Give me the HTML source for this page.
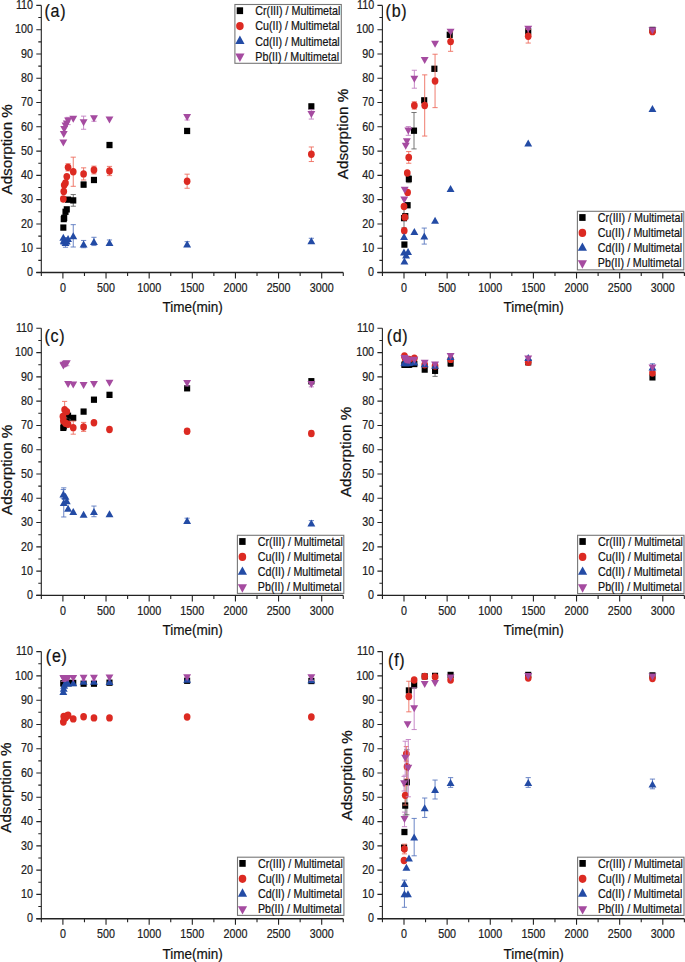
<!DOCTYPE html>
<html><head><meta charset="utf-8"><style>
html,body{margin:0;padding:0;background:#fff;}
svg{display:block;font-family:"Liberation Sans",sans-serif;}
text{stroke:#1a1a1a;stroke-width:0.22px;}
</style></head><body>
<svg width="685" height="962" viewBox="0 0 685 962">
<rect width="685" height="962" fill="#fff"/>
<path d="M73.25 194.56V206.22M70.65 194.56H75.85M70.65 206.22H75.85M83.60 182.18V187.03M81.00 182.18H86.20M81.00 187.03H86.20M93.96 177.57V182.42M91.36 177.57H96.56M91.36 182.42H96.56M311.36 104.00V108.85M308.76 104.00H313.96M308.76 108.85H313.96" stroke="#666666" stroke-width="0.9" fill="none"/><rect x="60.28" y="224.43" width="6.10" height="6.30" fill="#000000"/><rect x="60.71" y="215.93" width="6.10" height="6.30" fill="#000000"/><rect x="61.14" y="214.72" width="6.10" height="6.30" fill="#000000"/><rect x="62.44" y="208.65" width="6.10" height="6.30" fill="#000000"/><rect x="63.73" y="206.22" width="6.10" height="6.30" fill="#000000"/><rect x="65.03" y="196.51" width="6.10" height="6.30" fill="#000000"/><rect x="70.20" y="197.24" width="6.10" height="6.30" fill="#000000"/><rect x="80.55" y="181.46" width="6.10" height="6.30" fill="#000000"/><rect x="90.91" y="176.84" width="6.10" height="6.30" fill="#000000"/><rect x="106.44" y="141.88" width="6.10" height="6.30" fill="#000000"/><rect x="184.08" y="127.80" width="6.10" height="6.30" fill="#000000"/><rect x="308.31" y="103.27" width="6.10" height="6.30" fill="#000000"/>
<path d="M63.33 196.50V201.36M60.73 196.50H65.93M60.73 201.36H65.93M68.08 163.73V171.01M65.48 163.73H70.68M65.48 171.01H70.68M73.25 157.17V186.31M70.65 157.17H75.85M70.65 186.31H75.85M83.60 167.85V179.99M81.00 167.85H86.20M81.00 179.99H86.20M93.96 166.15V173.92M91.36 166.15H96.56M91.36 173.92H96.56M109.49 166.40V175.62M106.89 166.40H112.09M106.89 175.62H112.09M187.13 174.17V188.25M184.53 174.17H189.73M184.53 188.25H189.73M311.36 146.97V161.54M308.76 146.97H313.96M308.76 161.54H313.96" stroke="#ee6e60" stroke-width="0.9" fill="none"/><ellipse cx="63.33" cy="198.93" rx="3.35" ry="3.70" fill="#dc2a22"/><ellipse cx="63.76" cy="191.40" rx="3.35" ry="3.70" fill="#dc2a22"/><ellipse cx="64.19" cy="185.09" rx="3.35" ry="3.70" fill="#dc2a22"/><ellipse cx="65.49" cy="182.91" rx="3.35" ry="3.70" fill="#dc2a22"/><ellipse cx="66.78" cy="176.59" rx="3.35" ry="3.70" fill="#dc2a22"/><ellipse cx="68.08" cy="167.37" rx="3.35" ry="3.70" fill="#dc2a22"/><ellipse cx="73.25" cy="171.74" rx="3.35" ry="3.70" fill="#dc2a22"/><ellipse cx="83.60" cy="173.92" rx="3.35" ry="3.70" fill="#dc2a22"/><ellipse cx="93.96" cy="170.04" rx="3.35" ry="3.70" fill="#dc2a22"/><ellipse cx="109.49" cy="171.01" rx="3.35" ry="3.70" fill="#dc2a22"/><ellipse cx="187.13" cy="181.21" rx="3.35" ry="3.70" fill="#dc2a22"/><ellipse cx="311.36" cy="154.26" rx="3.35" ry="3.70" fill="#dc2a22"/>
<path d="M65.49 237.54V247.25M62.89 237.54H68.09M62.89 247.25H68.09M73.25 224.67V247.01M70.65 224.67H75.85M70.65 247.01H75.85M83.60 240.45V247.73M81.00 240.45H86.20M81.00 247.73H86.20M93.96 237.29V245.55M91.36 237.29H96.56M91.36 245.55H96.56M109.49 239.96V244.82M106.89 239.96H112.09M106.89 244.82H112.09M187.13 241.66V246.52M184.53 241.66H189.73M184.53 246.52H189.73M311.36 238.27V243.12M308.76 238.27H313.96M308.76 243.12H313.96" stroke="#5a78c0" stroke-width="0.9" fill="none"/><path d="M63.33 233.79L67.28 240.79H59.38Z" fill="#234ba5"/><path d="M63.76 236.71L67.71 243.71H59.81Z" fill="#234ba5"/><path d="M64.19 237.44L68.14 244.44H60.24Z" fill="#234ba5"/><path d="M65.49 238.89L69.44 245.89H61.54Z" fill="#234ba5"/><path d="M66.78 237.44L70.73 244.44H62.83Z" fill="#234ba5"/><path d="M68.08 235.01L72.03 242.01H64.13Z" fill="#234ba5"/><path d="M73.25 232.34L77.20 239.34H69.30Z" fill="#234ba5"/><path d="M83.60 240.59L87.55 247.59H79.65Z" fill="#234ba5"/><path d="M93.96 237.92L97.91 244.92H90.01Z" fill="#234ba5"/><path d="M109.49 238.89L113.44 245.89H105.54Z" fill="#234ba5"/><path d="M187.13 240.59L191.08 247.59H183.18Z" fill="#234ba5"/><path d="M311.36 237.19L315.31 244.19H307.41Z" fill="#234ba5"/>
<path d="M68.08 117.35V124.63M65.48 117.35H70.68M65.48 124.63H70.68M83.60 116.14V129.25M81.00 116.14H86.20M81.00 129.25H86.20M93.96 116.38V121.24M91.36 116.38H96.56M91.36 121.24H96.56M187.13 115.17V120.02M184.53 115.17H189.73M184.53 120.02H189.73M311.36 109.82V119.05M308.76 109.82H313.96M308.76 119.05H313.96" stroke="#c27ec2" stroke-width="0.9" fill="none"/><path d="M63.33 146.59L67.28 139.59H59.38Z" fill="#a54ba0"/><path d="M63.76 138.09L67.71 131.09H59.81Z" fill="#a54ba0"/><path d="M64.19 132.99L68.14 125.99H60.24Z" fill="#a54ba0"/><path d="M65.49 129.59L69.44 122.59H61.54Z" fill="#a54ba0"/><path d="M66.78 127.41L70.73 120.41H62.83Z" fill="#a54ba0"/><path d="M68.08 124.49L72.03 117.49H64.13Z" fill="#a54ba0"/><path d="M73.25 122.79L77.20 115.79H69.30Z" fill="#a54ba0"/><path d="M83.60 126.19L87.55 119.19H79.65Z" fill="#a54ba0"/><path d="M93.96 122.31L97.91 115.31H90.01Z" fill="#a54ba0"/><path d="M109.49 123.52L113.44 116.52H105.54Z" fill="#a54ba0"/><path d="M187.13 121.09L191.08 114.09H183.18Z" fill="#a54ba0"/><path d="M311.36 117.94L315.31 110.94H307.41Z" fill="#a54ba0"/>
<path d="M404.00 208.40V227.82M401.40 208.40H406.60M401.40 227.82H406.60M408.83 175.38V182.66M406.23 175.38H411.43M406.23 182.66H411.43M414.01 112.49V148.91M411.41 112.49H416.61M411.41 148.91H416.61" stroke="#666666" stroke-width="0.9" fill="none"/><rect x="401.35" y="241.43" width="6.10" height="6.30" fill="#000000"/><rect x="400.95" y="214.96" width="6.10" height="6.30" fill="#000000"/><rect x="402.24" y="213.02" width="6.10" height="6.30" fill="#000000"/><rect x="404.57" y="202.09" width="6.10" height="6.30" fill="#000000"/><rect x="405.78" y="175.87" width="6.10" height="6.30" fill="#000000"/><rect x="410.96" y="127.55" width="6.10" height="6.30" fill="#000000"/><rect x="421.14" y="97.20" width="6.10" height="6.30" fill="#000000"/><rect x="431.32" y="65.64" width="6.10" height="6.30" fill="#000000"/><rect x="446.67" y="31.65" width="6.10" height="6.30" fill="#000000"/><rect x="525.18" y="28.25" width="6.10" height="6.30" fill="#000000"/><rect x="649.41" y="26.79" width="6.10" height="6.30" fill="#000000"/>
<path d="M408.74 151.59V163.24M406.14 151.59H411.34M406.14 163.24H411.34M414.35 101.81V109.10M411.75 101.81H416.95M411.75 109.10H416.95M424.70 74.86V136.05M422.10 74.86H427.30M422.10 136.05H427.30M435.06 54.22V107.64M432.46 54.22H437.66M432.46 107.64H437.66M450.59 31.89V51.31M447.99 31.89H453.19M447.99 51.31H453.19M528.23 29.46V43.05M525.63 29.46H530.83M525.63 43.05H530.83" stroke="#ee6e60" stroke-width="0.9" fill="none"/><ellipse cx="404.26" cy="230.74" rx="3.35" ry="3.70" fill="#dc2a22"/><ellipse cx="404.86" cy="217.14" rx="3.35" ry="3.70" fill="#dc2a22"/><ellipse cx="404.00" cy="206.46" rx="3.35" ry="3.70" fill="#dc2a22"/><ellipse cx="407.62" cy="192.38" rx="3.35" ry="3.70" fill="#dc2a22"/><ellipse cx="407.28" cy="172.95" rx="3.35" ry="3.70" fill="#dc2a22"/><ellipse cx="408.74" cy="157.41" rx="3.35" ry="3.70" fill="#dc2a22"/><ellipse cx="414.35" cy="105.45" rx="3.35" ry="3.70" fill="#dc2a22"/><ellipse cx="424.70" cy="105.45" rx="3.35" ry="3.70" fill="#dc2a22"/><ellipse cx="435.06" cy="80.93" rx="3.35" ry="3.70" fill="#dc2a22"/><ellipse cx="450.59" cy="41.60" rx="3.35" ry="3.70" fill="#dc2a22"/><ellipse cx="528.23" cy="36.26" rx="3.35" ry="3.70" fill="#dc2a22"/><ellipse cx="652.46" cy="31.64" rx="3.35" ry="3.70" fill="#dc2a22"/>
<path d="M424.27 228.07V244.09M421.67 228.07H426.87M421.67 244.09H426.87" stroke="#5a78c0" stroke-width="0.9" fill="none"/><path d="M404.43 257.59L408.38 264.59H400.48Z" fill="#234ba5"/><path d="M406.07 251.52L410.02 258.52H402.12Z" fill="#234ba5"/><path d="M404.00 248.60L407.95 255.60H400.05Z" fill="#234ba5"/><path d="M408.05 247.88L412.00 254.88H404.10Z" fill="#234ba5"/><path d="M404.09 233.07L408.04 240.07H400.14Z" fill="#234ba5"/><path d="M414.35 227.97L418.30 234.97H410.40Z" fill="#234ba5"/><path d="M424.27 232.58L428.22 239.58H420.32Z" fill="#234ba5"/><path d="M435.06 216.80L439.01 223.80H431.11Z" fill="#234ba5"/><path d="M450.59 184.99L454.54 191.99H446.64Z" fill="#234ba5"/><path d="M528.23 139.59L532.18 146.59H524.28Z" fill="#234ba5"/><path d="M652.46 105.11L656.41 112.11H648.51Z" fill="#234ba5"/>
<path d="M408.31 126.58V135.32M405.71 126.58H410.91M405.71 135.32H410.91M414.35 70.25V88.21M411.75 70.25H416.95M411.75 88.21H416.95" stroke="#c27ec2" stroke-width="0.9" fill="none"/><path d="M404.26 203.40L408.21 196.40H400.31Z" fill="#a54ba0"/><path d="M404.69 193.69L408.64 186.69H400.74Z" fill="#a54ba0"/><path d="M405.73 149.74L409.68 142.74H401.78Z" fill="#a54ba0"/><path d="M406.85 145.13L410.80 138.13H402.90Z" fill="#a54ba0"/><path d="M408.31 134.45L412.26 127.45H404.36Z" fill="#a54ba0"/><path d="M414.35 82.73L418.30 75.73H410.40Z" fill="#a54ba0"/><path d="M424.70 64.04L428.65 57.04H420.75Z" fill="#a54ba0"/><path d="M435.06 47.77L439.01 40.77H431.11Z" fill="#a54ba0"/><path d="M450.59 35.63L454.54 28.63H446.64Z" fill="#a54ba0"/><path d="M528.23 32.71L532.18 25.71H524.28Z" fill="#a54ba0"/><path d="M652.46 34.17L656.41 27.17H648.51Z" fill="#a54ba0"/>
<path d="M311.36 378.82V383.68M308.76 378.82H313.96M308.76 383.68H313.96" stroke="#666666" stroke-width="0.9" fill="none"/><rect x="60.28" y="424.72" width="6.10" height="6.30" fill="#000000"/><rect x="60.71" y="423.26" width="6.10" height="6.30" fill="#000000"/><rect x="61.14" y="421.80" width="6.10" height="6.30" fill="#000000"/><rect x="62.44" y="421.08" width="6.10" height="6.30" fill="#000000"/><rect x="63.73" y="418.65" width="6.10" height="6.30" fill="#000000"/><rect x="65.03" y="412.58" width="6.10" height="6.30" fill="#000000"/><rect x="70.20" y="414.76" width="6.10" height="6.30" fill="#000000"/><rect x="80.55" y="408.45" width="6.10" height="6.30" fill="#000000"/><rect x="90.91" y="396.55" width="6.10" height="6.30" fill="#000000"/><rect x="106.44" y="391.70" width="6.10" height="6.30" fill="#000000"/><rect x="184.08" y="385.14" width="6.10" height="6.30" fill="#000000"/><rect x="308.31" y="378.10" width="6.10" height="6.30" fill="#000000"/>
<path d="M64.63 401.40V417.91M62.03 401.40H67.23M62.03 417.91H67.23M73.25 421.07V434.18M70.65 421.07H75.85M70.65 434.18H75.85M83.60 422.40V431.39M81.00 422.40H86.20M81.00 431.39H86.20M187.13 428.84V433.70M184.53 428.84H189.73M184.53 433.70H189.73M311.36 431.02V435.88M308.76 431.02H313.96M308.76 435.88H313.96" stroke="#ee6e60" stroke-width="0.9" fill="none"/><ellipse cx="62.90" cy="416.46" rx="3.35" ry="3.70" fill="#dc2a22"/><ellipse cx="63.33" cy="421.07" rx="3.35" ry="3.70" fill="#dc2a22"/><ellipse cx="64.63" cy="409.66" rx="3.35" ry="3.70" fill="#dc2a22"/><ellipse cx="65.49" cy="423.25" rx="3.35" ry="3.70" fill="#dc2a22"/><ellipse cx="66.78" cy="411.60" rx="3.35" ry="3.70" fill="#dc2a22"/><ellipse cx="68.08" cy="424.23" rx="3.35" ry="3.70" fill="#dc2a22"/><ellipse cx="73.25" cy="427.63" rx="3.35" ry="3.70" fill="#dc2a22"/><ellipse cx="83.60" cy="426.90" rx="3.35" ry="3.70" fill="#dc2a22"/><ellipse cx="93.96" cy="422.77" rx="3.35" ry="3.70" fill="#dc2a22"/><ellipse cx="109.49" cy="429.57" rx="3.35" ry="3.70" fill="#dc2a22"/><ellipse cx="187.13" cy="431.27" rx="3.35" ry="3.70" fill="#dc2a22"/><ellipse cx="311.36" cy="433.45" rx="3.35" ry="3.70" fill="#dc2a22"/>
<path d="M63.33 489.54V498.28M60.73 489.54H65.93M60.73 498.28H65.93M63.76 487.84V516.98M61.16 487.84H66.36M61.16 516.98H66.36M93.96 506.05V516.73M91.36 506.05H96.56M91.36 516.73H96.56M187.13 518.19V523.05M184.53 518.19H189.73M184.53 523.05H189.73M311.36 520.62V525.47M308.76 520.62H313.96M308.76 525.47H313.96" stroke="#5a78c0" stroke-width="0.9" fill="none"/><path d="M63.33 490.41L67.28 497.41H59.38Z" fill="#234ba5"/><path d="M63.76 498.91L67.71 505.91H59.81Z" fill="#234ba5"/><path d="M65.49 492.84L69.44 499.84H61.54Z" fill="#234ba5"/><path d="M66.78 497.21L70.73 504.21H62.83Z" fill="#234ba5"/><path d="M68.08 504.73L72.03 511.73H64.13Z" fill="#234ba5"/><path d="M73.25 507.89L77.20 514.89H69.30Z" fill="#234ba5"/><path d="M83.60 510.80L87.55 517.80H79.65Z" fill="#234ba5"/><path d="M93.96 507.89L97.91 514.89H90.01Z" fill="#234ba5"/><path d="M109.49 510.32L113.44 517.32H105.54Z" fill="#234ba5"/><path d="M187.13 517.12L191.08 524.12H183.18Z" fill="#234ba5"/><path d="M311.36 519.55L315.31 526.55H307.41Z" fill="#234ba5"/>
<path d="M66.78 361.83V365.71M64.18 361.83H69.38M64.18 365.71H69.38M187.13 381.01V385.86M184.53 381.01H189.73M184.53 385.86H189.73M311.36 381.98V386.83M308.76 381.98H313.96M308.76 386.83H313.96" stroke="#c27ec2" stroke-width="0.9" fill="none"/><path d="M63.33 369.45L67.28 362.45H59.38Z" fill="#a54ba0"/><path d="M63.76 368.73L67.71 361.73H59.81Z" fill="#a54ba0"/><path d="M65.49 367.75L69.44 360.75H61.54Z" fill="#a54ba0"/><path d="M66.78 367.27L70.73 360.27H62.83Z" fill="#a54ba0"/><path d="M68.08 387.91L72.03 380.91H64.13Z" fill="#a54ba0"/><path d="M73.25 388.39L77.20 381.39H69.30Z" fill="#a54ba0"/><path d="M83.60 389.12L87.55 382.12H79.65Z" fill="#a54ba0"/><path d="M93.96 387.91L97.91 380.91H90.01Z" fill="#a54ba0"/><path d="M109.49 386.69L113.44 379.69H105.54Z" fill="#a54ba0"/><path d="M187.13 386.94L191.08 379.94H183.18Z" fill="#a54ba0"/><path d="M311.36 387.91L315.31 380.91H307.41Z" fill="#a54ba0"/>
<path d="M435.06 365.23V376.39M432.46 365.23H437.66M432.46 376.39H437.66M450.59 360.13V366.44M447.99 360.13H453.19M447.99 366.44H453.19" stroke="#666666" stroke-width="0.9" fill="none"/><rect x="401.38" y="361.59" width="6.10" height="6.30" fill="#000000"/><rect x="401.81" y="361.59" width="6.10" height="6.30" fill="#000000"/><rect x="402.24" y="361.35" width="6.10" height="6.30" fill="#000000"/><rect x="403.54" y="361.35" width="6.10" height="6.30" fill="#000000"/><rect x="404.83" y="361.59" width="6.10" height="6.30" fill="#000000"/><rect x="406.13" y="361.59" width="6.10" height="6.30" fill="#000000"/><rect x="411.30" y="360.86" width="6.10" height="6.30" fill="#000000"/><rect x="421.65" y="366.45" width="6.10" height="6.30" fill="#000000"/><rect x="432.01" y="367.66" width="6.10" height="6.30" fill="#000000"/><rect x="447.54" y="360.13" width="6.10" height="6.30" fill="#000000"/><rect x="525.18" y="359.16" width="6.10" height="6.30" fill="#000000"/><rect x="649.41" y="374.22" width="6.10" height="6.30" fill="#000000"/>
<ellipse cx="404.43" cy="356.00" rx="3.35" ry="3.70" fill="#dc2a22"/><ellipse cx="404.86" cy="357.46" rx="3.35" ry="3.70" fill="#dc2a22"/><ellipse cx="405.29" cy="358.67" rx="3.35" ry="3.70" fill="#dc2a22"/><ellipse cx="406.59" cy="359.40" rx="3.35" ry="3.70" fill="#dc2a22"/><ellipse cx="407.88" cy="359.88" rx="3.35" ry="3.70" fill="#dc2a22"/><ellipse cx="409.18" cy="359.40" rx="3.35" ry="3.70" fill="#dc2a22"/><ellipse cx="414.35" cy="358.18" rx="3.35" ry="3.70" fill="#dc2a22"/><ellipse cx="424.70" cy="364.74" rx="3.35" ry="3.70" fill="#dc2a22"/><ellipse cx="435.06" cy="365.95" rx="3.35" ry="3.70" fill="#dc2a22"/><ellipse cx="450.59" cy="359.40" rx="3.35" ry="3.70" fill="#dc2a22"/><ellipse cx="528.23" cy="362.31" rx="3.35" ry="3.70" fill="#dc2a22"/><ellipse cx="652.46" cy="373.00" rx="3.35" ry="3.70" fill="#dc2a22"/>
<path d="M652.46 363.77V370.08M649.86 363.77H655.06M649.86 370.08H655.06" stroke="#5a78c0" stroke-width="0.9" fill="none"/><path d="M404.43 358.81L408.38 365.81H400.48Z" fill="#234ba5"/><path d="M404.86 359.05L408.81 366.05H400.91Z" fill="#234ba5"/><path d="M405.29 359.30L409.24 366.30H401.34Z" fill="#234ba5"/><path d="M406.59 359.30L410.54 366.30H402.64Z" fill="#234ba5"/><path d="M407.88 359.05L411.83 366.05H403.93Z" fill="#234ba5"/><path d="M409.18 358.81L413.13 365.81H405.23Z" fill="#234ba5"/><path d="M414.35 358.57L418.30 365.57H410.40Z" fill="#234ba5"/><path d="M424.70 360.27L428.65 367.27H420.75Z" fill="#234ba5"/><path d="M435.06 361.73L439.01 368.73H431.11Z" fill="#234ba5"/><path d="M450.59 352.98L454.54 359.98H446.64Z" fill="#234ba5"/><path d="M528.23 353.96L532.18 360.96H524.28Z" fill="#234ba5"/><path d="M652.46 363.43L656.41 370.43H648.51Z" fill="#234ba5"/>
<path d="M404.43 361.93L408.38 354.93H400.48Z" fill="#a54ba0"/><path d="M404.86 362.66L408.81 355.66H400.91Z" fill="#a54ba0"/><path d="M405.29 363.38L409.24 356.38H401.34Z" fill="#a54ba0"/><path d="M406.59 363.87L410.54 356.87H402.64Z" fill="#a54ba0"/><path d="M407.88 364.36L411.83 357.36H403.93Z" fill="#a54ba0"/><path d="M409.18 364.60L413.13 357.60H405.23Z" fill="#a54ba0"/><path d="M414.35 363.87L418.30 356.87H410.40Z" fill="#a54ba0"/><path d="M424.70 366.78L428.65 359.78H420.75Z" fill="#a54ba0"/><path d="M435.06 368.48L439.01 361.48H431.11Z" fill="#a54ba0"/><path d="M450.59 359.98L454.54 352.98H446.64Z" fill="#a54ba0"/><path d="M528.23 362.41L532.18 355.41H524.28Z" fill="#a54ba0"/><path d="M652.46 371.40L656.41 364.40H648.51Z" fill="#a54ba0"/>
<rect x="60.28" y="680.28" width="6.10" height="6.30" fill="#000000"/><rect x="60.71" y="680.03" width="6.10" height="6.30" fill="#000000"/><rect x="61.14" y="680.03" width="6.10" height="6.30" fill="#000000"/><rect x="62.44" y="679.79" width="6.10" height="6.30" fill="#000000"/><rect x="63.73" y="679.79" width="6.10" height="6.30" fill="#000000"/><rect x="65.03" y="679.79" width="6.10" height="6.30" fill="#000000"/><rect x="70.20" y="679.79" width="6.10" height="6.30" fill="#000000"/><rect x="80.55" y="680.52" width="6.10" height="6.30" fill="#000000"/><rect x="90.91" y="680.52" width="6.10" height="6.30" fill="#000000"/><rect x="106.44" y="679.55" width="6.10" height="6.30" fill="#000000"/><rect x="184.08" y="677.61" width="6.10" height="6.30" fill="#000000"/><rect x="308.31" y="677.85" width="6.10" height="6.30" fill="#000000"/>
<ellipse cx="63.33" cy="722.03" rx="3.35" ry="3.70" fill="#dc2a22"/><ellipse cx="63.76" cy="716.45" rx="3.35" ry="3.70" fill="#dc2a22"/><ellipse cx="64.19" cy="718.39" rx="3.35" ry="3.70" fill="#dc2a22"/><ellipse cx="65.49" cy="717.66" rx="3.35" ry="3.70" fill="#dc2a22"/><ellipse cx="66.78" cy="715.96" rx="3.35" ry="3.70" fill="#dc2a22"/><ellipse cx="68.08" cy="715.23" rx="3.35" ry="3.70" fill="#dc2a22"/><ellipse cx="73.25" cy="718.88" rx="3.35" ry="3.70" fill="#dc2a22"/><ellipse cx="83.60" cy="716.69" rx="3.35" ry="3.70" fill="#dc2a22"/><ellipse cx="93.96" cy="717.90" rx="3.35" ry="3.70" fill="#dc2a22"/><ellipse cx="109.49" cy="717.90" rx="3.35" ry="3.70" fill="#dc2a22"/><ellipse cx="187.13" cy="716.93" rx="3.35" ry="3.70" fill="#dc2a22"/><ellipse cx="311.36" cy="716.93" rx="3.35" ry="3.70" fill="#dc2a22"/>
<path d="M63.33 689.01V693.87M60.73 689.01H65.93M60.73 693.87H65.93" stroke="#5a78c0" stroke-width="0.9" fill="none"/><path d="M63.33 687.94L67.28 694.94H59.38Z" fill="#234ba5"/><path d="M63.76 684.78L67.71 691.78H59.81Z" fill="#234ba5"/><path d="M64.19 681.87L68.14 688.87H60.24Z" fill="#234ba5"/><path d="M65.49 678.96L69.44 685.96H61.54Z" fill="#234ba5"/><path d="M66.78 678.96L70.73 685.96H62.83Z" fill="#234ba5"/><path d="M68.08 679.68L72.03 686.68H64.13Z" fill="#234ba5"/><path d="M73.25 679.20L77.20 686.20H69.30Z" fill="#234ba5"/><path d="M83.60 677.74L87.55 684.74H79.65Z" fill="#234ba5"/><path d="M93.96 677.74L97.91 684.74H90.01Z" fill="#234ba5"/><path d="M109.49 677.98L113.44 684.98H105.54Z" fill="#234ba5"/><path d="M187.13 675.80L191.08 682.80H183.18Z" fill="#234ba5"/><path d="M311.36 676.28L315.31 683.28H307.41Z" fill="#234ba5"/>
<path d="M63.33 676.39V681.24M60.73 676.39H65.93M60.73 681.24H65.93M83.60 676.39V680.27M81.00 676.39H86.20M81.00 680.27H86.20M93.96 676.39V680.27M91.36 676.39H96.56M91.36 680.27H96.56M311.36 675.41V680.27M308.76 675.41H313.96M308.76 680.27H313.96" stroke="#c27ec2" stroke-width="0.9" fill="none"/><path d="M63.33 682.31L67.28 675.31H59.38Z" fill="#a54ba0"/><path d="M63.76 682.31L67.71 675.31H59.81Z" fill="#a54ba0"/><path d="M64.19 682.07L68.14 675.07H60.24Z" fill="#a54ba0"/><path d="M65.49 682.07L69.44 675.07H61.54Z" fill="#a54ba0"/><path d="M66.78 682.07L70.73 675.07H62.83Z" fill="#a54ba0"/><path d="M68.08 682.07L72.03 675.07H64.13Z" fill="#a54ba0"/><path d="M73.25 682.07L77.20 675.07H69.30Z" fill="#a54ba0"/><path d="M83.60 681.83L87.55 674.83H79.65Z" fill="#a54ba0"/><path d="M93.96 681.83L97.91 674.83H90.01Z" fill="#a54ba0"/><path d="M109.49 681.59L113.44 674.59H105.54Z" fill="#a54ba0"/><path d="M187.13 681.34L191.08 674.34H183.18Z" fill="#a54ba0"/><path d="M311.36 681.34L315.31 674.34H307.41Z" fill="#a54ba0"/>
<path d="M405.21 796.09V815.02M402.61 796.09H407.81M402.61 815.02H407.81M406.85 749.71V814.78M404.25 749.71H409.45M404.25 814.78H409.45M414.18 681.24V688.53M411.58 681.24H416.78M411.58 688.53H416.78" stroke="#666666" stroke-width="0.9" fill="none"/><rect x="401.04" y="844.41" width="6.10" height="6.30" fill="#000000"/><rect x="401.38" y="828.87" width="6.10" height="6.30" fill="#000000"/><rect x="402.16" y="802.41" width="6.10" height="6.30" fill="#000000"/><rect x="403.80" y="779.10" width="6.10" height="6.30" fill="#000000"/><rect x="405.78" y="687.32" width="6.10" height="6.30" fill="#000000"/><rect x="411.13" y="681.73" width="6.10" height="6.30" fill="#000000"/><rect x="421.65" y="673.24" width="6.10" height="6.30" fill="#000000"/><rect x="432.01" y="672.75" width="6.10" height="6.30" fill="#000000"/><rect x="447.54" y="671.78" width="6.10" height="6.30" fill="#000000"/><rect x="525.18" y="671.78" width="6.10" height="6.30" fill="#000000"/><rect x="649.41" y="672.26" width="6.10" height="6.30" fill="#000000"/>
<path d="M404.43 844.16V853.87M401.83 844.16H407.03M401.83 853.87H407.03M405.21 785.65V805.07M402.61 785.65H407.81M402.61 805.07H407.81M407.02 754.57V778.85M404.42 754.57H409.62M404.42 778.85H409.62M406.33 746.55V761.12M403.73 746.55H408.93M403.73 761.12H408.93M408.83 681.24V711.83M406.23 681.24H411.43M406.23 711.83H411.43" stroke="#ee6e60" stroke-width="0.9" fill="none"/><ellipse cx="404.00" cy="860.43" rx="3.35" ry="3.70" fill="#dc2a22"/><ellipse cx="404.43" cy="849.02" rx="3.35" ry="3.70" fill="#dc2a22"/><ellipse cx="405.21" cy="795.36" rx="3.35" ry="3.70" fill="#dc2a22"/><ellipse cx="407.02" cy="766.71" rx="3.35" ry="3.70" fill="#dc2a22"/><ellipse cx="406.33" cy="753.84" rx="3.35" ry="3.70" fill="#dc2a22"/><ellipse cx="408.83" cy="696.54" rx="3.35" ry="3.70" fill="#dc2a22"/><ellipse cx="414.18" cy="680.03" rx="3.35" ry="3.70" fill="#dc2a22"/><ellipse cx="424.70" cy="676.39" rx="3.35" ry="3.70" fill="#dc2a22"/><ellipse cx="435.06" cy="676.87" rx="3.35" ry="3.70" fill="#dc2a22"/><ellipse cx="450.59" cy="680.03" rx="3.35" ry="3.70" fill="#dc2a22"/><ellipse cx="528.23" cy="678.09" rx="3.35" ry="3.70" fill="#dc2a22"/><ellipse cx="652.46" cy="678.57" rx="3.35" ry="3.70" fill="#dc2a22"/>
<path d="M404.43 880.09V907.29M401.83 880.09H407.03M401.83 907.29H407.03M414.18 818.42V855.81M411.58 818.42H416.78M411.58 855.81H416.78M424.70 798.03V817.45M422.10 798.03H427.30M422.10 817.45H427.30M435.06 780.06V799.00M432.46 780.06H437.66M432.46 799.00H437.66M450.59 777.63V787.35M447.99 777.63H453.19M447.99 787.35H453.19M528.23 777.63V787.35M525.63 777.63H530.83M525.63 787.35H530.83M652.46 779.09V788.80M649.86 779.09H655.06M649.86 788.80H655.06" stroke="#5a78c0" stroke-width="0.9" fill="none"/><path d="M404.43 890.19L408.38 897.19H400.48Z" fill="#234ba5"/><path d="M407.97 890.19L411.92 897.19H404.02Z" fill="#234ba5"/><path d="M404.43 879.99L408.38 886.99H400.48Z" fill="#234ba5"/><path d="M406.42 863.73L410.37 870.73H402.47Z" fill="#234ba5"/><path d="M409.00 854.50L412.95 861.50H405.05Z" fill="#234ba5"/><path d="M414.18 833.62L418.13 840.62H410.23Z" fill="#234ba5"/><path d="M424.70 804.24L428.65 811.24H420.75Z" fill="#234ba5"/><path d="M435.06 786.03L439.01 793.03H431.11Z" fill="#234ba5"/><path d="M450.59 778.99L454.54 785.99H446.64Z" fill="#234ba5"/><path d="M528.23 778.99L532.18 785.99H524.28Z" fill="#234ba5"/><path d="M652.46 780.45L656.41 787.45H648.51Z" fill="#234ba5"/>
<path d="M404.52 812.11V826.68M401.92 812.11H407.12M401.92 826.68H407.12M404.09 776.42V790.99M401.49 776.42H406.69M401.49 790.99H406.69M405.21 741.21V775.21M402.61 741.21H407.81M402.61 775.21H407.81M408.31 739.51V796.81M405.71 739.51H410.91M405.71 796.81H410.91M414.18 687.80V729.56M411.58 687.80H416.78M411.58 729.56H416.78" stroke="#c27ec2" stroke-width="0.9" fill="none"/><path d="M404.52 822.89L408.47 815.89H400.57Z" fill="#a54ba0"/><path d="M404.09 787.20L408.04 780.20H400.14Z" fill="#a54ba0"/><path d="M405.21 761.71L409.16 754.71H401.26Z" fill="#a54ba0"/><path d="M408.31 771.66L412.26 764.66H404.36Z" fill="#a54ba0"/><path d="M407.62 728.20L411.57 721.20H403.67Z" fill="#a54ba0"/><path d="M414.18 712.18L418.13 705.18H410.23Z" fill="#a54ba0"/><path d="M424.70 687.90L428.65 680.90H420.75Z" fill="#a54ba0"/><path d="M435.06 686.93L439.01 679.93H431.11Z" fill="#a54ba0"/><path d="M450.59 681.59L454.54 674.59H446.64Z" fill="#a54ba0"/><path d="M528.23 679.89L532.18 672.89H524.28Z" fill="#a54ba0"/><path d="M652.46 680.61L656.41 673.61H648.51Z" fill="#a54ba0"/>
<g stroke="#222" stroke-width="1.1" fill="none"><path d="M41.30 5.42V272.50" /><path d="M36.30 272.50H343.28" stroke-width="1.4"/><path d="M36.30 272.50H41.30M38.30 260.36H41.30M36.30 248.22H41.30M38.30 236.08H41.30M36.30 223.94H41.30M38.30 211.80H41.30M36.30 199.66H41.30M38.30 187.52H41.30M36.30 175.38H41.30M38.30 163.24H41.30M36.30 151.10H41.30M38.30 138.96H41.30M36.30 126.82H41.30M38.30 114.68H41.30M36.30 102.54H41.30M38.30 90.40H41.30M36.30 78.26H41.30M38.30 66.12H41.30M36.30 53.98H41.30M38.30 41.84H41.30M36.30 29.70H41.30M38.30 17.56H41.30M36.30 5.42H41.30M41.33 272.50V276.00M62.90 272.50V278.50M84.47 272.50V276.00M106.03 272.50V278.50M127.60 272.50V276.00M149.17 272.50V278.50M170.74 272.50V276.00M192.31 272.50V278.50M213.87 272.50V276.00M235.44 272.50V278.50M257.01 272.50V276.00M278.57 272.50V278.50M300.14 272.50V276.00M321.71 272.50V278.50M343.28 272.50V276.00" /></g>
<g font-size="12.5" fill="#222"><text transform="translate(33.00 276.20) scale(0.86 1)" text-anchor="end">0</text><text transform="translate(33.00 251.92) scale(0.86 1)" text-anchor="end">10</text><text transform="translate(33.00 227.64) scale(0.86 1)" text-anchor="end">20</text><text transform="translate(33.00 203.36) scale(0.86 1)" text-anchor="end">30</text><text transform="translate(33.00 179.08) scale(0.86 1)" text-anchor="end">40</text><text transform="translate(33.00 154.80) scale(0.86 1)" text-anchor="end">50</text><text transform="translate(33.00 130.52) scale(0.86 1)" text-anchor="end">60</text><text transform="translate(33.00 106.24) scale(0.86 1)" text-anchor="end">70</text><text transform="translate(33.00 81.96) scale(0.86 1)" text-anchor="end">80</text><text transform="translate(33.00 57.68) scale(0.86 1)" text-anchor="end">90</text><text transform="translate(33.00 33.40) scale(0.86 1)" text-anchor="end">100</text><text transform="translate(33.00 9.12) scale(0.86 1)" text-anchor="end">110</text><text transform="translate(62.90 291.90) scale(0.86 1)" text-anchor="middle">0</text><text transform="translate(106.03 291.90) scale(0.86 1)" text-anchor="middle">500</text><text transform="translate(149.17 291.90) scale(0.86 1)" text-anchor="middle">1000</text><text transform="translate(192.31 291.90) scale(0.86 1)" text-anchor="middle">1500</text><text transform="translate(235.44 291.90) scale(0.86 1)" text-anchor="middle">2000</text><text transform="translate(278.57 291.90) scale(0.86 1)" text-anchor="middle">2500</text><text transform="translate(321.71 291.90) scale(0.86 1)" text-anchor="middle">3000</text></g>
<text transform="translate(192.59 312.40) scale(0.915 1)" text-anchor="middle" font-size="14.8" fill="#111">Time(min)</text>
<text transform="translate(11.80 149.30) rotate(-90) scale(1.085 1)" text-anchor="middle" font-size="14" fill="#111">Adsorption %</text>
<text transform="translate(55.35 17.32) scale(0.86 1)" text-anchor="middle" font-size="18.7" letter-spacing="0.8" fill="#111">(a)</text>
<rect x="234.90" y="4.50" width="106.4" height="58.8" fill="#fff" stroke="#777" stroke-width="1.1"/>
<rect x="236.70" y="7.30" width="6.4" height="6.8" fill="#000000"/>
<text transform="translate(255.30 15.30) scale(0.863 1)" font-size="12.4" fill="#111">Cr(III) / Multimetal</text>
<ellipse cx="239.90" cy="26.10" rx="3.8" ry="4.1" fill="#dc2a22"/>
<text transform="translate(255.30 30.40) scale(0.863 1)" font-size="12.4" fill="#111">Cu(II) / Multimetal</text>
<path d="M239.90 35.60L244.50 44.00H235.30Z" fill="#234ba5"/>
<text transform="translate(255.30 45.50) scale(0.863 1)" font-size="12.4" fill="#111">Cd(II) / Multimetal</text>
<path d="M239.90 61.90L244.50 53.50H235.30Z" fill="#a54ba0"/>
<text transform="translate(255.30 60.60) scale(0.863 1)" font-size="12.4" fill="#111">Pb(II) / Multimetal</text>
<g stroke="#222" stroke-width="1.1" fill="none"><path d="M382.40 5.42V272.50" /><path d="M377.40 272.50H684.38" stroke-width="1.4"/><path d="M377.40 272.50H382.40M379.40 260.36H382.40M377.40 248.22H382.40M379.40 236.08H382.40M377.40 223.94H382.40M379.40 211.80H382.40M377.40 199.66H382.40M379.40 187.52H382.40M377.40 175.38H382.40M379.40 163.24H382.40M377.40 151.10H382.40M379.40 138.96H382.40M377.40 126.82H382.40M379.40 114.68H382.40M377.40 102.54H382.40M379.40 90.40H382.40M377.40 78.26H382.40M379.40 66.12H382.40M377.40 53.98H382.40M379.40 41.84H382.40M377.40 29.70H382.40M379.40 17.56H382.40M377.40 5.42H382.40M382.43 272.50V276.00M404.00 272.50V278.50M425.57 272.50V276.00M447.13 272.50V278.50M468.70 272.50V276.00M490.27 272.50V278.50M511.84 272.50V276.00M533.40 272.50V278.50M554.97 272.50V276.00M576.54 272.50V278.50M598.11 272.50V276.00M619.67 272.50V278.50M641.24 272.50V276.00M662.81 272.50V278.50M684.38 272.50V276.00" /></g>
<g font-size="12.5" fill="#222"><text transform="translate(374.10 276.20) scale(0.86 1)" text-anchor="end">0</text><text transform="translate(374.10 251.92) scale(0.86 1)" text-anchor="end">10</text><text transform="translate(374.10 227.64) scale(0.86 1)" text-anchor="end">20</text><text transform="translate(374.10 203.36) scale(0.86 1)" text-anchor="end">30</text><text transform="translate(374.10 179.08) scale(0.86 1)" text-anchor="end">40</text><text transform="translate(374.10 154.80) scale(0.86 1)" text-anchor="end">50</text><text transform="translate(374.10 130.52) scale(0.86 1)" text-anchor="end">60</text><text transform="translate(374.10 106.24) scale(0.86 1)" text-anchor="end">70</text><text transform="translate(374.10 81.96) scale(0.86 1)" text-anchor="end">80</text><text transform="translate(374.10 57.68) scale(0.86 1)" text-anchor="end">90</text><text transform="translate(374.10 33.40) scale(0.86 1)" text-anchor="end">100</text><text transform="translate(374.10 9.12) scale(0.86 1)" text-anchor="end">110</text><text transform="translate(404.00 291.90) scale(0.86 1)" text-anchor="middle">0</text><text transform="translate(447.13 291.90) scale(0.86 1)" text-anchor="middle">500</text><text transform="translate(490.27 291.90) scale(0.86 1)" text-anchor="middle">1000</text><text transform="translate(533.40 291.90) scale(0.86 1)" text-anchor="middle">1500</text><text transform="translate(576.54 291.90) scale(0.86 1)" text-anchor="middle">2000</text><text transform="translate(619.67 291.90) scale(0.86 1)" text-anchor="middle">2500</text><text transform="translate(662.81 291.90) scale(0.86 1)" text-anchor="middle">3000</text></g>
<text transform="translate(533.69 312.40) scale(0.915 1)" text-anchor="middle" font-size="14.8" fill="#111">Time(min)</text>
<text transform="translate(348.20 134.00) rotate(-90) scale(1.085 1)" text-anchor="middle" font-size="14" fill="#111">Adsorption %</text>
<text transform="translate(396.45 17.32) scale(0.86 1)" text-anchor="middle" font-size="18.7" letter-spacing="0.8" fill="#111">(b)</text>
<rect x="577.40" y="211.30" width="106.4" height="58.6" fill="#fff" stroke="#777" stroke-width="1.1"/>
<rect x="579.20" y="214.10" width="6.4" height="6.8" fill="#000000"/>
<text transform="translate(597.80 222.10) scale(0.863 1)" font-size="12.4" fill="#111">Cr(III) / Multimetal</text>
<ellipse cx="582.40" cy="232.90" rx="3.8" ry="4.1" fill="#dc2a22"/>
<text transform="translate(597.80 237.20) scale(0.863 1)" font-size="12.4" fill="#111">Cu(II) / Multimetal</text>
<path d="M582.40 242.40L587.00 250.80H577.80Z" fill="#234ba5"/>
<text transform="translate(597.80 252.30) scale(0.863 1)" font-size="12.4" fill="#111">Cd(II) / Multimetal</text>
<path d="M582.40 268.70L587.00 260.30H577.80Z" fill="#a54ba0"/>
<text transform="translate(597.80 267.40) scale(0.863 1)" font-size="12.4" fill="#111">Pb(II) / Multimetal</text>
<g stroke="#222" stroke-width="1.1" fill="none"><path d="M41.30 328.32V595.40" /><path d="M36.30 595.40H343.28" stroke-width="1.4"/><path d="M36.30 595.40H41.30M38.30 583.26H41.30M36.30 571.12H41.30M38.30 558.98H41.30M36.30 546.84H41.30M38.30 534.70H41.30M36.30 522.56H41.30M38.30 510.42H41.30M36.30 498.28H41.30M38.30 486.14H41.30M36.30 474.00H41.30M38.30 461.86H41.30M36.30 449.72H41.30M38.30 437.58H41.30M36.30 425.44H41.30M38.30 413.30H41.30M36.30 401.16H41.30M38.30 389.02H41.30M36.30 376.88H41.30M38.30 364.74H41.30M36.30 352.60H41.30M38.30 340.46H41.30M36.30 328.32H41.30M41.33 595.40V598.90M62.90 595.40V601.40M84.47 595.40V598.90M106.03 595.40V601.40M127.60 595.40V598.90M149.17 595.40V601.40M170.74 595.40V598.90M192.31 595.40V601.40M213.87 595.40V598.90M235.44 595.40V601.40M257.01 595.40V598.90M278.57 595.40V601.40M300.14 595.40V598.90M321.71 595.40V601.40M343.28 595.40V598.90" /></g>
<g font-size="12.5" fill="#222"><text transform="translate(33.00 599.10) scale(0.86 1)" text-anchor="end">0</text><text transform="translate(33.00 574.82) scale(0.86 1)" text-anchor="end">10</text><text transform="translate(33.00 550.54) scale(0.86 1)" text-anchor="end">20</text><text transform="translate(33.00 526.26) scale(0.86 1)" text-anchor="end">30</text><text transform="translate(33.00 501.98) scale(0.86 1)" text-anchor="end">40</text><text transform="translate(33.00 477.70) scale(0.86 1)" text-anchor="end">50</text><text transform="translate(33.00 453.42) scale(0.86 1)" text-anchor="end">60</text><text transform="translate(33.00 429.14) scale(0.86 1)" text-anchor="end">70</text><text transform="translate(33.00 404.86) scale(0.86 1)" text-anchor="end">80</text><text transform="translate(33.00 380.58) scale(0.86 1)" text-anchor="end">90</text><text transform="translate(33.00 356.30) scale(0.86 1)" text-anchor="end">100</text><text transform="translate(33.00 332.02) scale(0.86 1)" text-anchor="end">110</text><text transform="translate(62.90 614.80) scale(0.86 1)" text-anchor="middle">0</text><text transform="translate(106.03 614.80) scale(0.86 1)" text-anchor="middle">500</text><text transform="translate(149.17 614.80) scale(0.86 1)" text-anchor="middle">1000</text><text transform="translate(192.31 614.80) scale(0.86 1)" text-anchor="middle">1500</text><text transform="translate(235.44 614.80) scale(0.86 1)" text-anchor="middle">2000</text><text transform="translate(278.57 614.80) scale(0.86 1)" text-anchor="middle">2500</text><text transform="translate(321.71 614.80) scale(0.86 1)" text-anchor="middle">3000</text></g>
<text transform="translate(192.59 635.30) scale(0.915 1)" text-anchor="middle" font-size="14.8" fill="#111">Time(min)</text>
<text transform="translate(11.60 469.80) rotate(-90) scale(1.085 1)" text-anchor="middle" font-size="14" fill="#111">Adsorption %</text>
<text transform="translate(54.85 341.62) scale(0.86 1)" text-anchor="middle" font-size="18.7" letter-spacing="0.8" fill="#111">(c)</text>
<rect x="237.40" y="535.30" width="106.4" height="58.1" fill="#fff" stroke="#777" stroke-width="1.1"/>
<rect x="239.20" y="538.10" width="6.4" height="6.8" fill="#000000"/>
<text transform="translate(257.80 546.10) scale(0.863 1)" font-size="12.4" fill="#111">Cr(III) / Multimetal</text>
<ellipse cx="242.40" cy="556.90" rx="3.8" ry="4.1" fill="#dc2a22"/>
<text transform="translate(257.80 561.20) scale(0.863 1)" font-size="12.4" fill="#111">Cu(II) / Multimetal</text>
<path d="M242.40 566.40L247.00 574.80H237.80Z" fill="#234ba5"/>
<text transform="translate(257.80 576.30) scale(0.863 1)" font-size="12.4" fill="#111">Cd(II) / Multimetal</text>
<path d="M242.40 592.70L247.00 584.30H237.80Z" fill="#a54ba0"/>
<text transform="translate(257.80 591.40) scale(0.863 1)" font-size="12.4" fill="#111">Pb(II) / Multimetal</text>
<g stroke="#222" stroke-width="1.1" fill="none"><path d="M382.40 328.32V595.40" /><path d="M377.40 595.40H684.38" stroke-width="1.4"/><path d="M377.40 595.40H382.40M379.40 583.26H382.40M377.40 571.12H382.40M379.40 558.98H382.40M377.40 546.84H382.40M379.40 534.70H382.40M377.40 522.56H382.40M379.40 510.42H382.40M377.40 498.28H382.40M379.40 486.14H382.40M377.40 474.00H382.40M379.40 461.86H382.40M377.40 449.72H382.40M379.40 437.58H382.40M377.40 425.44H382.40M379.40 413.30H382.40M377.40 401.16H382.40M379.40 389.02H382.40M377.40 376.88H382.40M379.40 364.74H382.40M377.40 352.60H382.40M379.40 340.46H382.40M377.40 328.32H382.40M382.43 595.40V598.90M404.00 595.40V601.40M425.57 595.40V598.90M447.13 595.40V601.40M468.70 595.40V598.90M490.27 595.40V601.40M511.84 595.40V598.90M533.40 595.40V601.40M554.97 595.40V598.90M576.54 595.40V601.40M598.11 595.40V598.90M619.67 595.40V601.40M641.24 595.40V598.90M662.81 595.40V601.40M684.38 595.40V598.90" /></g>
<g font-size="12.5" fill="#222"><text transform="translate(374.10 599.10) scale(0.86 1)" text-anchor="end">0</text><text transform="translate(374.10 574.82) scale(0.86 1)" text-anchor="end">10</text><text transform="translate(374.10 550.54) scale(0.86 1)" text-anchor="end">20</text><text transform="translate(374.10 526.26) scale(0.86 1)" text-anchor="end">30</text><text transform="translate(374.10 501.98) scale(0.86 1)" text-anchor="end">40</text><text transform="translate(374.10 477.70) scale(0.86 1)" text-anchor="end">50</text><text transform="translate(374.10 453.42) scale(0.86 1)" text-anchor="end">60</text><text transform="translate(374.10 429.14) scale(0.86 1)" text-anchor="end">70</text><text transform="translate(374.10 404.86) scale(0.86 1)" text-anchor="end">80</text><text transform="translate(374.10 380.58) scale(0.86 1)" text-anchor="end">90</text><text transform="translate(374.10 356.30) scale(0.86 1)" text-anchor="end">100</text><text transform="translate(374.10 332.02) scale(0.86 1)" text-anchor="end">110</text><text transform="translate(404.00 614.80) scale(0.86 1)" text-anchor="middle">0</text><text transform="translate(447.13 614.80) scale(0.86 1)" text-anchor="middle">500</text><text transform="translate(490.27 614.80) scale(0.86 1)" text-anchor="middle">1000</text><text transform="translate(533.40 614.80) scale(0.86 1)" text-anchor="middle">1500</text><text transform="translate(576.54 614.80) scale(0.86 1)" text-anchor="middle">2000</text><text transform="translate(619.67 614.80) scale(0.86 1)" text-anchor="middle">2500</text><text transform="translate(662.81 614.80) scale(0.86 1)" text-anchor="middle">3000</text></g>
<text transform="translate(533.69 635.30) scale(0.915 1)" text-anchor="middle" font-size="14.8" fill="#111">Time(min)</text>
<text transform="translate(351.00 451.90) rotate(-90) scale(1.085 1)" text-anchor="middle" font-size="14" fill="#111">Adsorption %</text>
<text transform="translate(397.55 341.62) scale(0.86 1)" text-anchor="middle" font-size="18.7" letter-spacing="0.8" fill="#111">(d)</text>
<rect x="577.60" y="535.30" width="106.4" height="58.3" fill="#fff" stroke="#777" stroke-width="1.1"/>
<rect x="579.40" y="538.10" width="6.4" height="6.8" fill="#000000"/>
<text transform="translate(598.00 546.10) scale(0.863 1)" font-size="12.4" fill="#111">Cr(III) / Multimetal</text>
<ellipse cx="582.60" cy="556.90" rx="3.8" ry="4.1" fill="#dc2a22"/>
<text transform="translate(598.00 561.20) scale(0.863 1)" font-size="12.4" fill="#111">Cu(II) / Multimetal</text>
<path d="M582.60 566.40L587.20 574.80H578.00Z" fill="#234ba5"/>
<text transform="translate(598.00 576.30) scale(0.863 1)" font-size="12.4" fill="#111">Cd(II) / Multimetal</text>
<path d="M582.60 592.70L587.20 584.30H578.00Z" fill="#a54ba0"/>
<text transform="translate(598.00 591.40) scale(0.863 1)" font-size="12.4" fill="#111">Pb(II) / Multimetal</text>
<g stroke="#222" stroke-width="1.1" fill="none"><path d="M41.30 651.62V918.70" /><path d="M36.30 918.70H343.28" stroke-width="1.4"/><path d="M36.30 918.70H41.30M38.30 906.56H41.30M36.30 894.42H41.30M38.30 882.28H41.30M36.30 870.14H41.30M38.30 858.00H41.30M36.30 845.86H41.30M38.30 833.72H41.30M36.30 821.58H41.30M38.30 809.44H41.30M36.30 797.30H41.30M38.30 785.16H41.30M36.30 773.02H41.30M38.30 760.88H41.30M36.30 748.74H41.30M38.30 736.60H41.30M36.30 724.46H41.30M38.30 712.32H41.30M36.30 700.18H41.30M38.30 688.04H41.30M36.30 675.90H41.30M38.30 663.76H41.30M36.30 651.62H41.30M41.33 918.70V922.20M62.90 918.70V924.70M84.47 918.70V922.20M106.03 918.70V924.70M127.60 918.70V922.20M149.17 918.70V924.70M170.74 918.70V922.20M192.31 918.70V924.70M213.87 918.70V922.20M235.44 918.70V924.70M257.01 918.70V922.20M278.57 918.70V924.70M300.14 918.70V922.20M321.71 918.70V924.70M343.28 918.70V922.20" /></g>
<g font-size="12.5" fill="#222"><text transform="translate(33.00 922.40) scale(0.86 1)" text-anchor="end">0</text><text transform="translate(33.00 898.12) scale(0.86 1)" text-anchor="end">10</text><text transform="translate(33.00 873.84) scale(0.86 1)" text-anchor="end">20</text><text transform="translate(33.00 849.56) scale(0.86 1)" text-anchor="end">30</text><text transform="translate(33.00 825.28) scale(0.86 1)" text-anchor="end">40</text><text transform="translate(33.00 801.00) scale(0.86 1)" text-anchor="end">50</text><text transform="translate(33.00 776.72) scale(0.86 1)" text-anchor="end">60</text><text transform="translate(33.00 752.44) scale(0.86 1)" text-anchor="end">70</text><text transform="translate(33.00 728.16) scale(0.86 1)" text-anchor="end">80</text><text transform="translate(33.00 703.88) scale(0.86 1)" text-anchor="end">90</text><text transform="translate(33.00 679.60) scale(0.86 1)" text-anchor="end">100</text><text transform="translate(33.00 655.32) scale(0.86 1)" text-anchor="end">110</text><text transform="translate(62.90 938.10) scale(0.86 1)" text-anchor="middle">0</text><text transform="translate(106.03 938.10) scale(0.86 1)" text-anchor="middle">500</text><text transform="translate(149.17 938.10) scale(0.86 1)" text-anchor="middle">1000</text><text transform="translate(192.31 938.10) scale(0.86 1)" text-anchor="middle">1500</text><text transform="translate(235.44 938.10) scale(0.86 1)" text-anchor="middle">2000</text><text transform="translate(278.57 938.10) scale(0.86 1)" text-anchor="middle">2500</text><text transform="translate(321.71 938.10) scale(0.86 1)" text-anchor="middle">3000</text></g>
<text transform="translate(192.59 958.60) scale(0.915 1)" text-anchor="middle" font-size="14.8" fill="#111">Time(min)</text>
<text transform="translate(10.90 787.60) rotate(-90) scale(1.085 1)" text-anchor="middle" font-size="14" fill="#111">Adsorption %</text>
<text transform="translate(56.70 662.37) scale(0.86 1)" text-anchor="middle" font-size="18.7" letter-spacing="0.8" fill="#111">(e)</text>
<rect x="237.50" y="857.20" width="106.4" height="58.2" fill="#fff" stroke="#777" stroke-width="1.1"/>
<rect x="239.30" y="860.00" width="6.4" height="6.8" fill="#000000"/>
<text transform="translate(257.90 868.00) scale(0.863 1)" font-size="12.4" fill="#111">Cr(III) / Multimetal</text>
<ellipse cx="242.50" cy="878.80" rx="3.8" ry="4.1" fill="#dc2a22"/>
<text transform="translate(257.90 883.10) scale(0.863 1)" font-size="12.4" fill="#111">Cu(II) / Multimetal</text>
<path d="M242.50 888.30L247.10 896.70H237.90Z" fill="#234ba5"/>
<text transform="translate(257.90 898.20) scale(0.863 1)" font-size="12.4" fill="#111">Cd(II) / Multimetal</text>
<path d="M242.50 914.60L247.10 906.20H237.90Z" fill="#a54ba0"/>
<text transform="translate(257.90 913.30) scale(0.863 1)" font-size="12.4" fill="#111">Pb(II) / Multimetal</text>
<g stroke="#222" stroke-width="1.1" fill="none"><path d="M382.40 651.62V918.70" /><path d="M377.40 918.70H684.38" stroke-width="1.4"/><path d="M377.40 918.70H382.40M379.40 906.56H382.40M377.40 894.42H382.40M379.40 882.28H382.40M377.40 870.14H382.40M379.40 858.00H382.40M377.40 845.86H382.40M379.40 833.72H382.40M377.40 821.58H382.40M379.40 809.44H382.40M377.40 797.30H382.40M379.40 785.16H382.40M377.40 773.02H382.40M379.40 760.88H382.40M377.40 748.74H382.40M379.40 736.60H382.40M377.40 724.46H382.40M379.40 712.32H382.40M377.40 700.18H382.40M379.40 688.04H382.40M377.40 675.90H382.40M379.40 663.76H382.40M377.40 651.62H382.40M382.43 918.70V922.20M404.00 918.70V924.70M425.57 918.70V922.20M447.13 918.70V924.70M468.70 918.70V922.20M490.27 918.70V924.70M511.84 918.70V922.20M533.40 918.70V924.70M554.97 918.70V922.20M576.54 918.70V924.70M598.11 918.70V922.20M619.67 918.70V924.70M641.24 918.70V922.20M662.81 918.70V924.70M684.38 918.70V922.20" /></g>
<g font-size="12.5" fill="#222"><text transform="translate(374.10 922.40) scale(0.86 1)" text-anchor="end">0</text><text transform="translate(374.10 898.12) scale(0.86 1)" text-anchor="end">10</text><text transform="translate(374.10 873.84) scale(0.86 1)" text-anchor="end">20</text><text transform="translate(374.10 849.56) scale(0.86 1)" text-anchor="end">30</text><text transform="translate(374.10 825.28) scale(0.86 1)" text-anchor="end">40</text><text transform="translate(374.10 801.00) scale(0.86 1)" text-anchor="end">50</text><text transform="translate(374.10 776.72) scale(0.86 1)" text-anchor="end">60</text><text transform="translate(374.10 752.44) scale(0.86 1)" text-anchor="end">70</text><text transform="translate(374.10 728.16) scale(0.86 1)" text-anchor="end">80</text><text transform="translate(374.10 703.88) scale(0.86 1)" text-anchor="end">90</text><text transform="translate(374.10 679.60) scale(0.86 1)" text-anchor="end">100</text><text transform="translate(374.10 655.32) scale(0.86 1)" text-anchor="end">110</text><text transform="translate(404.00 938.10) scale(0.86 1)" text-anchor="middle">0</text><text transform="translate(447.13 938.10) scale(0.86 1)" text-anchor="middle">500</text><text transform="translate(490.27 938.10) scale(0.86 1)" text-anchor="middle">1000</text><text transform="translate(533.40 938.10) scale(0.86 1)" text-anchor="middle">1500</text><text transform="translate(576.54 938.10) scale(0.86 1)" text-anchor="middle">2000</text><text transform="translate(619.67 938.10) scale(0.86 1)" text-anchor="middle">2500</text><text transform="translate(662.81 938.10) scale(0.86 1)" text-anchor="middle">3000</text></g>
<text transform="translate(533.69 958.60) scale(0.915 1)" text-anchor="middle" font-size="14.8" fill="#111">Time(min)</text>
<text transform="translate(351.80 775.30) rotate(-90) scale(1.085 1)" text-anchor="middle" font-size="14" fill="#111">Adsorption %</text>
<text transform="translate(396.70 666.02) scale(0.86 1)" text-anchor="middle" font-size="18.7" letter-spacing="0.8" fill="#111">(f)</text>
<rect x="577.60" y="857.20" width="106.4" height="58.2" fill="#fff" stroke="#777" stroke-width="1.1"/>
<rect x="579.40" y="860.00" width="6.4" height="6.8" fill="#000000"/>
<text transform="translate(598.00 868.00) scale(0.863 1)" font-size="12.4" fill="#111">Cr(III) / Multimetal</text>
<ellipse cx="582.60" cy="878.80" rx="3.8" ry="4.1" fill="#dc2a22"/>
<text transform="translate(598.00 883.10) scale(0.863 1)" font-size="12.4" fill="#111">Cu(II) / Multimetal</text>
<path d="M582.60 888.30L587.20 896.70H578.00Z" fill="#234ba5"/>
<text transform="translate(598.00 898.20) scale(0.863 1)" font-size="12.4" fill="#111">Cd(II) / Multimetal</text>
<path d="M582.60 914.60L587.20 906.20H578.00Z" fill="#a54ba0"/>
<text transform="translate(598.00 913.30) scale(0.863 1)" font-size="12.4" fill="#111">Pb(II) / Multimetal</text>
</svg></body></html>
